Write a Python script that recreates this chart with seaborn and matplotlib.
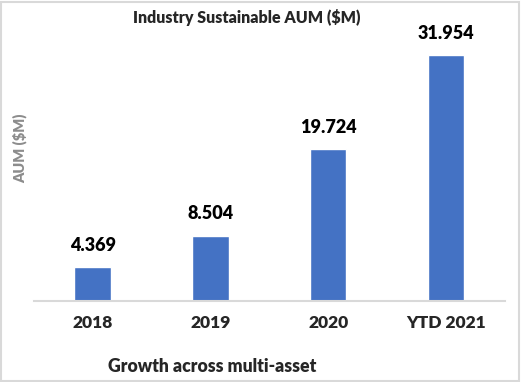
import matplotlib
matplotlib.use('Agg')
import matplotlib.pyplot as plt
import seaborn as sns
import pandas as pd

categories = ["2018", "2019", "2020", "YTD 2021"]
aum_values = [4.369, 8.504, 19.724, 31.954]
value_labels = ["4.369", "8.504", "19.724", "31.954"]

sns.set_style("white")
plt.rcParams['font.family'] = ['Lato', 'DejaVu Sans']

df = pd.DataFrame({"year": categories, "aum": aum_values})

fig = plt.figure(figsize=(5.21, 3.82), dpi=100)
ax = fig.add_axes([0.065, 0.212, 0.904, 0.683])
sns.barplot(data=df, x="year", y="aum", color="#4472C4", width=0.31,
            saturation=1, ax=ax)

ax.set_ylim(0, 33.9)
for i, (v, lab) in enumerate(zip(aum_values, value_labels)):
    ax.annotate(lab, (i, v), xytext=(0, 9.5), textcoords="offset points",
                ha="center", va="bottom", fontsize=13, fontweight="heavy",
                color="#000000")

for s in ["top", "right", "left"]:
    ax.spines[s].set_visible(False)
ax.spines["bottom"].set_color("#D9D9D9")
ax.spines["bottom"].set_linewidth(1.5)
ax.set_yticks([])
ax.tick_params(axis="x", length=0, pad=10)
for t in ax.get_xticklabels():
    t.set_fontsize(12.5)
    t.set_fontweight("heavy")
ax.set_xlabel("")
ax.set_ylabel("")

fig.text(0.474, 0.955, "Industry Sustainable AUM ($M)", ha="center", va="center",
         fontsize=11.5, fontweight="heavy")
fig.text(0.038, 0.613, "AUM ($M)", rotation=90, ha="center", va="center",
         fontsize=10.5, fontweight="heavy", color="#8C8C8C")
fig.text(0.207, 0.04, "Growth across multi-asset", ha="left", va="center",
         fontsize=12.7, fontweight="heavy")

border = plt.Rectangle((0.002, 0.003), 0.995, 0.993, transform=fig.transFigure,
                       fill=False, edgecolor="#D9D9D9", linewidth=1.5)
fig.patches.append(border)

fig.savefig("out.png", dpi=100)
plt.close('all')
